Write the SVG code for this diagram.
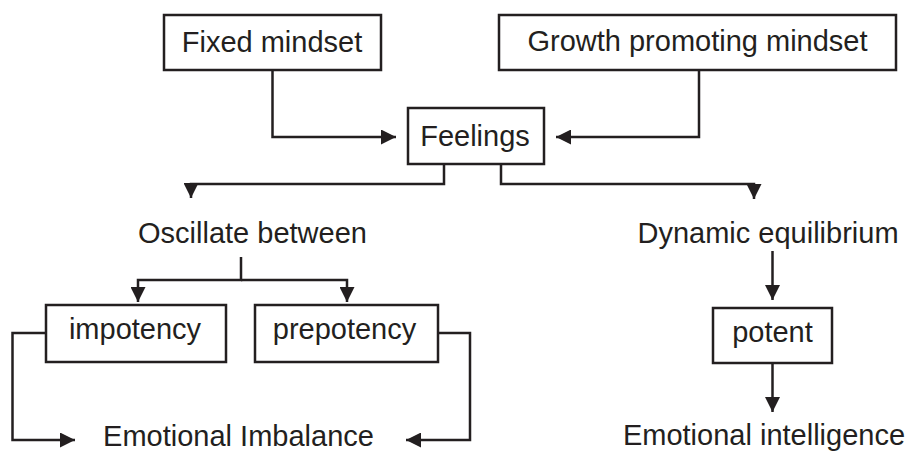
<svg xmlns="http://www.w3.org/2000/svg" width="912" height="452" viewBox="0 0 912 452">
  <style>
    .box { fill: #ffffff; stroke: #231f20; stroke-width: 2.5; }
    .lbl { font-family: "Liberation Sans", Arial, sans-serif; font-size: 29px; fill: #231f20; text-anchor: middle; }
    .con { fill: none; stroke: #231f20; stroke-width: 2.5; }
    .arr { marker-end: url(#ah); }
  </style>
  <defs>
    <marker id="ah" markerUnits="userSpaceOnUse" markerWidth="15" markerHeight="15" refX="14" refY="7" orient="auto" viewBox="0 0 14 14">
      <path d="M0,0 L14,7 L0,14 Z" fill="#231f20"/>
    </marker>
  </defs>
  <rect width="912" height="452" fill="#ffffff"/>

  <g id="connectors">
    <path class="con arr" d="M272.5,70 V137 H396"/>
    <path class="con arr" d="M699,70 V137 H556"/>
    <path class="con arr" d="M444,164 V184 H191 V198"/>
    <path class="con arr" d="M501,164 V184 H754 V199"/>
    <path class="con arr" d="M241,257 V280 H138 V302"/>
    <path class="con arr" d="M241,280 H347 V302"/>
    <path class="con arr" d="M772.5,251 V300"/>
    <path class="con arr" d="M772.5,363 V412"/>
    <path class="con arr" d="M46,333 H12.5 V440 H75"/>
    <path class="con arr" d="M438,333 H470 V440 H406"/>
  </g>

  <g id="fixed-mindset">
    <rect class="box" x="164" y="15" width="217" height="55"/>
    <text class="lbl" x="272" y="52">Fixed mindset</text>
  </g>
  <g id="growth-mindset">
    <rect class="box" x="499" y="15" width="397" height="55"/>
    <text class="lbl" x="697.5" y="51">Growth promoting mindset</text>
  </g>
  <g id="feelings">
    <rect class="box" x="408" y="108" width="136" height="56"/>
    <text class="lbl" x="475" y="146">Feelings</text>
  </g>
  <g id="oscillate-between">
    <text class="lbl" x="252.5" y="243">Oscillate between</text>
  </g>
  <g id="dynamic-equilibrium">
    <text class="lbl" x="768" y="243">Dynamic equilibrium</text>
  </g>
  <g id="impotency">
    <rect class="box" x="46" y="305" width="180" height="57"/>
    <text class="lbl" x="135" y="339">impotency</text>
  </g>
  <g id="prepotency">
    <rect class="box" x="255" y="305" width="183" height="57"/>
    <text class="lbl" x="344.5" y="339">prepotency</text>
  </g>
  <g id="potent">
    <rect class="box" x="713" y="308" width="119" height="55"/>
    <text class="lbl" x="772.5" y="342">potent</text>
  </g>
  <g id="emotional-imbalance">
    <text class="lbl" x="238.5" y="446">Emotional Imbalance</text>
  </g>
  <g id="emotional-intelligence">
    <text class="lbl" x="764" y="445">Emotional intelligence</text>
  </g>
</svg>
